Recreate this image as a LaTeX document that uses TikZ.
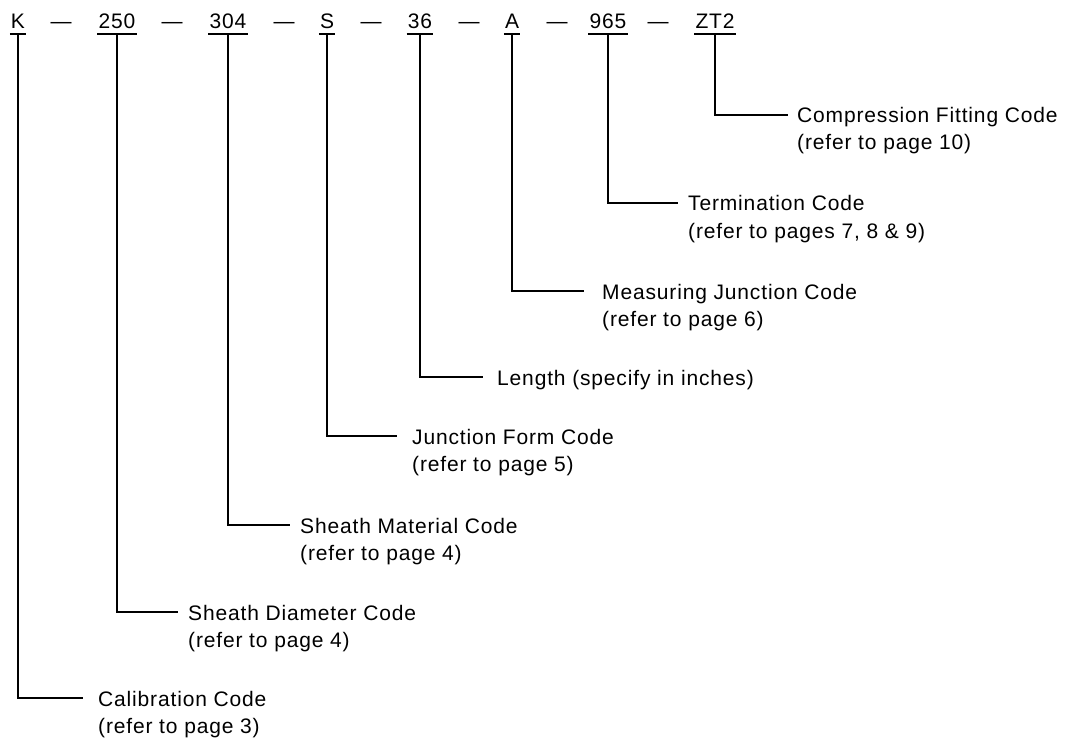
\documentclass[tikz,border=0pt]{standalone}
\usepackage{fontspec}
\setmainfont{Liberation Sans}[LetterSpace=4]
\begin{document}
\begin{tikzpicture}[x=1pt,y=-1pt,
  font=\fontsize{21}{25}\selectfont,
  code/.style={inner sep=0pt, anchor=base},
  lbl/.style={inner sep=0pt, anchor=base west},
  lead/.style={line width=1.2pt, line cap=butt}]
\useasboundingbox (0,0) rectangle (1091,743);

% code row
\node[code] (k)    at (18,29)  {K};
\node[code] (d1)   at (61,29)  {—};
\node[code] (c250) at (117,29) {250};
\node[code] (d2)   at (172,29) {—};
\node[code] (c304) at (228,29) {304};
\node[code] (d3)   at (284,29) {—};
\node[code] (s)    at (327,29) {S};
\node[code] (d4)   at (371,29) {—};
\node[code] (c36)  at (420,29) {36};
\node[code] (d5)   at (469,29) {—};
\node[code] (a)    at (512,29) {A};
\node[code] (d6)   at (557,29) {—};
\node[code] (c965) at (608,29) {965};
\node[code] (d7)   at (658,29) {—};
\node[code] (zt2)  at (715,29) {ZT2};

% underlines
\foreach \n in {k,c250,c304,s,c36,a,c965,zt2}{
  \draw[lead] ([xshift=-1pt,yshift=-5pt]\n.base west) -- ([xshift=1pt,yshift=-5pt]\n.base east);
}

% labels
\node[lbl] (cfc)  at (797,123) {Compression Fitting Code};
\node[lbl] (cfc2) at ([yshift=-27pt]cfc.base west) {(refer to page 10)};
\node[lbl] (tc)   at (688,211) {Termination Code};
\node[lbl] (tc2)  at ([yshift=-27pt]tc.base west) {(refer to pages 7, 8 \& 9)};
\node[lbl] (mjc)  at (602,299) {Measuring Junction Code};
\node[lbl] (mjc2) at ([yshift=-27pt]mjc.base west) {(refer to page 6)};
\node[lbl] (len)  at (497,385) {Length (specify in inches)};
\node[lbl] (jfc)  at (412,444) {Junction Form Code};
\node[lbl] (jfc2) at ([yshift=-27pt]jfc.base west) {(refer to page 5)};
\node[lbl] (smc)  at (300,533) {Sheath Material Code};
\node[lbl] (smc2) at ([yshift=-27pt]smc.base west) {(refer to page 4)};
\node[lbl] (sdc)  at (188,620) {Sheath Diameter Code};
\node[lbl] (sdc2) at ([yshift=-27pt]sdc.base west) {(refer to page 4)};
\node[lbl] (cal)  at (98,706)  {Calibration Code};
\node[lbl] (cal2) at ([yshift=-27pt]cal.base west) {(refer to page 3)};

% leaders
\draw[lead] ([yshift=-5pt]zt2.base)  |- ([xshift=-9pt,yshift=8pt]cfc.base west);
\draw[lead] ([yshift=-5pt]c965.base) |- ([xshift=-10pt,yshift=8pt]tc.base west);
\draw[lead] ([yshift=-5pt]a.base)    |- ([xshift=-18pt,yshift=8pt]mjc.base west);
\draw[lead] ([yshift=-5pt]c36.base)  |- ([xshift=-14pt,yshift=8pt]len.base west);
\draw[lead] ([yshift=-5pt]s.base)    |- ([xshift=-15pt,yshift=8pt]jfc.base west);
\draw[lead] ([yshift=-5pt]c304.base) |- ([xshift=-10pt,yshift=8pt]smc.base west);
\draw[lead] ([yshift=-5pt]c250.base) |- ([xshift=-10pt,yshift=8pt]sdc.base west);
\draw[lead] ([yshift=-5pt]k.base)    |- ([xshift=-15pt,yshift=8pt]cal.base west);
\end{tikzpicture}
\end{document}
